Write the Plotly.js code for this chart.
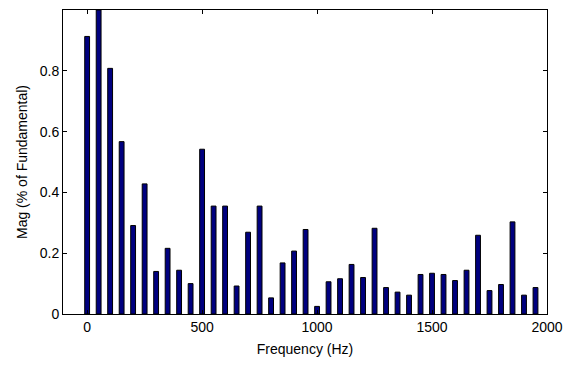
<!DOCTYPE html>
<html>
<head>
<meta charset="utf-8">
<script src="https://cdn.plot.ly/plotly-3.0.1.min.js"></script>
<style>html,body{margin:0;padding:0;background:#fff;}#chart{width:566px;height:370px;}</style>
</head>
<body>
<div id="chart"></div>
<script>
var frequencies = [0,50,100,150,200,250,300,350,400,450,500,550,600,650,700,750,800,850,900,950,
                   1000,1050,1100,1150,1200,1250,1300,1350,1400,1450,1500,1550,1600,1650,1700,1750,1800,1850,1900,1950];
var magnitudes = [0.913,1.0,0.808,0.567,0.291,0.428,0.140,0.216,0.144,0.100,
                  0.542,0.355,0.355,0.092,0.269,0.355,0.053,0.168,0.207,0.278,
                  0.025,0.106,0.116,0.163,0.120,0.282,0.087,0.072,0.062,0.130,
                  0.134,0.130,0.110,0.144,0.259,0.077,0.097,0.303,0.062,0.087];
var xTicks = [0,500,1000,1500,2000];
var yTicks = [0,0.2,0.4,0.6,0.8];
var yTickLabels = ['0','0.2','0.4','0.6','0.8'];

var trace = {
  type: 'bar',
  x: frequencies,
  y: magnitudes,
  width: 21,
  marker: {color: '#00007f', line: {color: '#000000', width: 1}},
  hoverinfo: 'x+y'
};
var font = {family: 'Liberation Sans, Arial, sans-serif', size: 14, color: '#000'};
var layout = {
  width: 566, height: 370,
  margin: {l: 63, r: 19, t: 10, b: 56},
  paper_bgcolor: '#fff', plot_bgcolor: '#fff',
  showlegend: false,
  font: font,
  xaxis: {
    range: [-105, 2000],
    tickvals: xTicks,
    ticktext: xTicks.map(String),
    ticks: 'inside', ticklen: 4, tickcolor: '#000',
    showline: true, linecolor: '#000', linewidth: 1, mirror: 'ticks',
    showgrid: false, zeroline: false,
    tickfont: font,
    title: {text: 'Frequency (Hz)', font: font, standoff: 10}
  },
  yaxis: {
    range: [0, 1.0],
    tickvals: yTicks,
    ticktext: yTickLabels,
    ticks: 'inside', ticklen: 4, tickcolor: '#000',
    showline: true, linecolor: '#000', linewidth: 1, mirror: 'ticks',
    showgrid: false, zeroline: false,
    tickfont: font,
    title: {text: 'Mag (% of Fundamental)', font: font, standoff: 8}
  }
};
Plotly.newPlot('chart', [trace], layout, {displayModeBar: false, staticPlot: true});
</script>
</body>
</html>
